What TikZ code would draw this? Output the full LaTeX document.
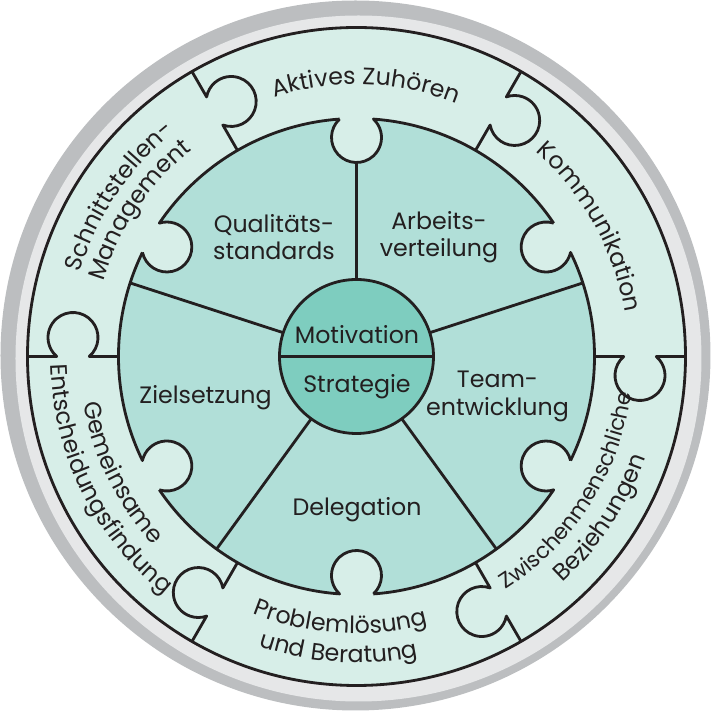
\documentclass[tikz,border=0pt]{standalone}
\usepackage{fontspec}
\setmainfont{Poppins}
\usepackage{tikz}
\usetikzlibrary{decorations.text}
\definecolor{ink}{HTML}{231F20}
\definecolor{mint}{HTML}{D7EEE8}
\definecolor{sector}{HTML}{B1DFD8}
\definecolor{core}{HTML}{7ECDBF}
\definecolor{rimdark}{HTML}{BCBEC0}
\definecolor{rimlight}{HTML}{E6E7E8}
\newcommand{\ringfont}{\fontsize{13.5}{15.5}\selectfont}
\newcommand{\smallringfont}{\fontsize{12.4}{15.5}\selectfont}

\begin{document}
\begin{tikzpicture}[x=0.02cm, y=0.02cm,
    line/.style={draw=ink, line width=1.6pt, line join=round},
    label/.style={font=\fontsize{13.5}{15.5}\selectfont, text=ink, align=center, inner sep=0pt},
    arctext/.style={decorate, decoration={text along path, text align=center,
                    text color=ink, text={|\ringfont|#1}}},
  ]
  \useasboundingbox (-356.5,-356.5) rectangle (357.5,356.5);
  % Rim
  \fill[rimdark] (-1,1) circle[radius=355];
  \fill[rimlight] (2,-2) circle[radius=343];
  % Fills
  \fill[mint] (0,0) circle[radius=329];
  \fill[sector] (0,0) circle[radius=238];
  \foreach \a in {30,90,...,330}
    \fill[mint] (\a:219) circle[radius=25];
  \fill[core] (0,0) circle[radius=77];
  % Outer circle
  \draw[line] (0,0) circle[radius=329];
  % Inner circle with knobs
  \foreach \a in {30,90,...,330}
    \draw[line] (\a:219) ++(\a+42.6:25) arc[start angle=\a+42.6, end angle=\a+317.4, radius=25]
      arc[start angle=\a-4.07, end angle=\a-55.93, radius=238];
  % Joints between outer pieces
  \foreach \a in {0,60,...,300}
    \draw[line] (\a:238) -- (\a:267.25)
      arc[start angle=\a+130.54, end angle=\a+409.46, radius=25] -- (\a:329);
  % Spokes
  \foreach \a in {18,162,234,306}
    \draw[line] (\a:77) -- (\a:238);
  \draw[line] (90:77) -- (90:194);
  % Centre
  \draw[line] (0,0) circle[radius=77];
  \draw[line] (180:77) -- (0:77);
  \node[label] (motivation) at (0.5,22) {Motivation};
  \node[label] (strategie) at (0.5,-30) {Strategie};
  % Inner labels
  \node[label] (quali) at (-82.5,119.5) {Qualitäts-\\standards};
  \node[label] (arbeit) at (82.5,119.5) {Arbeits-\\verteilung};
  \node[label] (team) at (141,-40) {Team-\\entwicklung};
  \node[label] (ziel) at (-151,-41) {Zielsetzung};
  \node[label] (delegation) at (0.5,-153) {Delegation};
  % Outer labels
  \path[arctext={Aktives Zuhören}] (148:272) arc[start angle=148, end angle=28, radius=272];
  \path[arctext={Kommunikation}] (89:272) arc[start angle=89, end angle=-31, radius=272];
  \path[arctext={Schnittstellen-}] (206:289) arc[start angle=206, end angle=86, radius=289];
  \path[arctext={Management}] (206:264) arc[start angle=206, end angle=86, radius=264];
  \path[arctext={|\smallringfont|Zwischenmenschliche}] (-92.5:277) arc[start angle=-92.5, end angle=27.5, radius=277];
  \path[arctext={Beziehungen}] (-93.5:306) arc[start angle=-93.5, end angle=26.5, radius=306];
  \path[arctext={Problemlösung}] (206.5:277) arc[start angle=206.5, end angle=326.5, radius=277];
  \path[arctext={und Beratung}] (206.5:306) arc[start angle=206.5, end angle=326.5, radius=306];
  \path[arctext={Gemeinsame}] (146.3:277) arc[start angle=146.3, end angle=266.3, radius=277];
  \path[arctext={Entscheidungsfindung}] (146.3:306) arc[start angle=146.3, end angle=266.3, radius=306];
\end{tikzpicture}
\end{document}
